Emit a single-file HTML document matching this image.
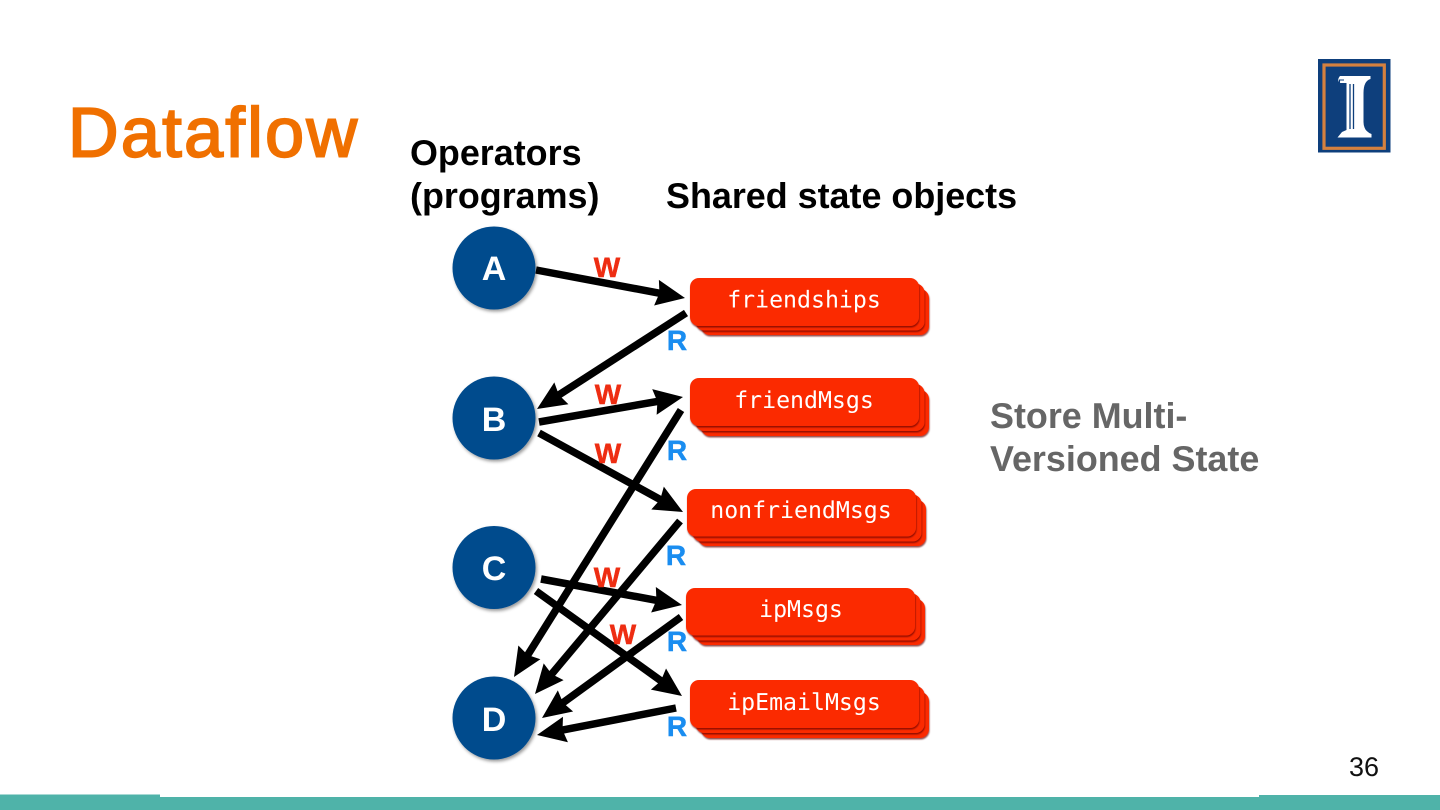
<!DOCTYPE html>
<html lang="en">
<head>
<meta charset="utf-8">
<title>Dataflow</title>
<style>
html,body{margin:0;padding:0;background:#fff;width:1440px;height:810px;overflow:hidden}
svg{display:block;text-rendering:geometricPrecision}
.h{font:bold 35.9px "Liberation Sans",sans-serif;fill:#000}
.g{font:bold 35.9px "Liberation Sans",sans-serif;fill:#666}
.w{font:bold 28px "Liberation Sans",sans-serif;fill:#ee2d12;stroke:#ee2d12;stroke-width:.5;text-anchor:middle}
.r{font:bold 28px "Liberation Sans",sans-serif;fill:#1a8df0;stroke:#1a8df0;stroke-width:.5;text-anchor:middle}
.c{font:bold 34px "Liberation Sans",sans-serif;fill:#fff;text-anchor:middle}
.m{font:23.2px "DejaVu Sans Mono","Liberation Mono",monospace;fill:#fff;text-anchor:middle}
.a line{stroke:#000;stroke-width:7.5}
.a path{fill:#000}
</style>
</head>
<body>
<svg width="1440" height="810" viewBox="0 0 1440 810" xmlns="http://www.w3.org/2000/svg">
<defs>
<filter id="s1" x="-20%" y="-20%" width="150%" height="150%"><feDropShadow dx="1.5" dy="2" stdDeviation="1.5" flood-color="#000" flood-opacity=".4"/></filter>
<filter id="s2" x="-10%" y="-20%" width="120%" height="150%"><feDropShadow dx="0.5" dy="1.5" stdDeviation="0.8" flood-color="#600" flood-opacity=".7"/></filter>
</defs>

<rect x="0" y="794.5" width="160" height="15.5" fill="#4fb3a9"/>
<rect x="160" y="797" width="1099" height="13" fill="#4fb3a9"/>
<rect x="1259" y="795" width="181" height="15" fill="#4fb3a9"/>

<text x="68" y="156.500" font-family="Liberation Sans, sans-serif" font-size="70" fill="#f07000" stroke="#f07000" stroke-width="2" textLength="289" lengthAdjust="spacing">Dataflow</text>

<rect x="1318" y="59" width="72.5" height="93.5" fill="#0e3f7c"/>
<rect x="1324" y="65" width="60.3" height="83.3" fill="none" stroke="#d5813f" stroke-width="3.2"/>
<path d="M1340,76 H1370.500 V79 Q1363.500,81 1363.500,93 V122 Q1363.500,131 1371.500,134 V137.500 H1337.500 L1342,132 L1346.500,130 V83 H1340 Q1336.500,80 1340,76 Z" fill="#fff"/>
<path d="M1350,84 V129 M1353.500,84 V129" stroke="#0e3f7c" stroke-width="1.3" fill="none"/>
<path d="M1344,80 H1339.500 V83" stroke="#0e3f7c" stroke-width="1.1" fill="none"/>

<text class="h" x="410" y="165">Operators</text>
<text class="h" x="410" y="208">(programs)</text>
<text class="h" x="666" y="208">Shared state objects</text>
<text class="g" x="990" y="428">Store Multi-</text>
<text class="g" x="990" y="471">Versioned State</text>
<text x="1349" y="776" font-family="Liberation Sans, sans-serif" font-size="27" fill="#111">36</text>

<g filter="url(#s1)" fill="#044b8d">
<circle cx="494" cy="268" r="41.5"/>
<circle cx="494" cy="418" r="41.5"/>
<circle cx="494" cy="567.500" r="41.5"/>
<circle cx="494" cy="718" r="41.5"/>
</g>
<text class="c" x="494" y="280">A</text>
<text class="c" x="494" y="431">B</text>
<text class="c" x="494" y="580">C</text>
<text class="c" x="494" y="731">D</text>

<g fill="#fb2a05">
<g><rect filter="url(#s2)" x="701" y="289" width="228" height="46" rx="9"/><rect filter="url(#s2)" x="695.500" y="283.500" width="229" height="47" rx="9"/><rect filter="url(#s2)" x="690" y="278" width="229" height="48" rx="9"/></g>
<g><rect filter="url(#s2)" x="701" y="390" width="228" height="46" rx="9"/><rect filter="url(#s2)" x="695.500" y="384" width="229" height="47" rx="9"/><rect filter="url(#s2)" x="690" y="378" width="229" height="48" rx="9"/></g>
<g><rect filter="url(#s2)" x="698" y="500" width="228" height="46" rx="9"/><rect filter="url(#s2)" x="692.500" y="494.500" width="229" height="47" rx="9"/><rect filter="url(#s2)" x="687" y="489" width="229" height="47.500" rx="9"/></g>
<g><rect filter="url(#s2)" x="697" y="599" width="228" height="46" rx="9"/><rect filter="url(#s2)" x="691.500" y="593.500" width="229" height="47" rx="9"/><rect filter="url(#s2)" x="686" y="588" width="229" height="47.500" rx="9"/></g>
<g><rect filter="url(#s2)" x="701" y="692" width="228" height="46" rx="9"/><rect filter="url(#s2)" x="695.500" y="686" width="229" height="47" rx="9"/><rect filter="url(#s2)" x="690" y="680" width="229" height="48" rx="9"/></g>
</g>
<text class="m" x="804" y="307.500">friendships</text>
<text class="m" x="804" y="408">friendMsgs</text>
<text class="m" x="801" y="518">nonfriendMsgs</text>
<text class="m" x="801" y="617">ipMsgs</text>
<text class="m" x="804" y="710">ipEmailMsgs</text>

<g class="a">
<line x1="536" y1="270" x2="665.300" y2="294.300"/>
<line x1="686" y1="313" x2="553.800" y2="398.200"/>
<line x1="539" y1="422" x2="663.300" y2="400.400"/>
<line x1="539" y1="433" x2="665.500" y2="502.400"/>
<line x1="681" y1="410" x2="524.600" y2="660"/>
<line x1="680" y1="521" x2="547.800" y2="678.700"/>
<line x1="541" y1="579" x2="662.300" y2="601.400"/>
<line x1="536" y1="591" x2="665.800" y2="684.300"/>
<line x1="681" y1="617" x2="558.200" y2="706.200"/>
<line x1="676" y1="708" x2="556.600" y2="731.200"/>
<path transform="translate(685,298) rotate(10.6)" d="M0,0 L-29,-13 L-26,0 L-29,13 Z"/>
<path transform="translate(537,409) rotate(147.2)" d="M0,0 L-29,-13 L-26,0 L-29,13 Z"/>
<path transform="translate(683,397) rotate(-9.85)" d="M0,0 L-29,-13 L-26,0 L-29,13 Z"/>
<path transform="translate(683,512) rotate(28.75)" d="M0,0 L-29,-13 L-26,0 L-29,13 Z"/>
<path transform="translate(514,677) rotate(122)" d="M0,0 L-29,-13 L-26,0 L-29,13 Z"/>
<path transform="translate(535,694) rotate(130)" d="M0,0 L-29,-13 L-26,0 L-29,13 Z"/>
<path transform="translate(682,605) rotate(10.45)" d="M0,0 L-29,-13 L-26,0 L-29,13 Z"/>
<path transform="translate(682,696) rotate(35.7)" d="M0,0 L-29,-13 L-26,0 L-29,13 Z"/>
<path transform="translate(542,718) rotate(144)" d="M0,0 L-29,-13 L-26,0 L-29,13 Z"/>
<path transform="translate(537,735) rotate(169)" d="M0,0 L-29,-13 L-26,0 L-29,13 Z"/>
</g>

<text class="w" x="607" y="277">W</text>
<text class="w" x="608" y="404">W</text>
<text class="w" x="608" y="463">W</text>
<text class="w" x="607" y="587">W</text>
<text class="w" x="623" y="644">W</text>
<text class="r" x="677" y="350">R</text>
<text class="r" x="677" y="460">R</text>
<text class="r" x="676" y="565">R</text>
<text class="r" x="677" y="651">R</text>
<text class="r" x="677" y="736">R</text>
</svg>
</body>
</html>
